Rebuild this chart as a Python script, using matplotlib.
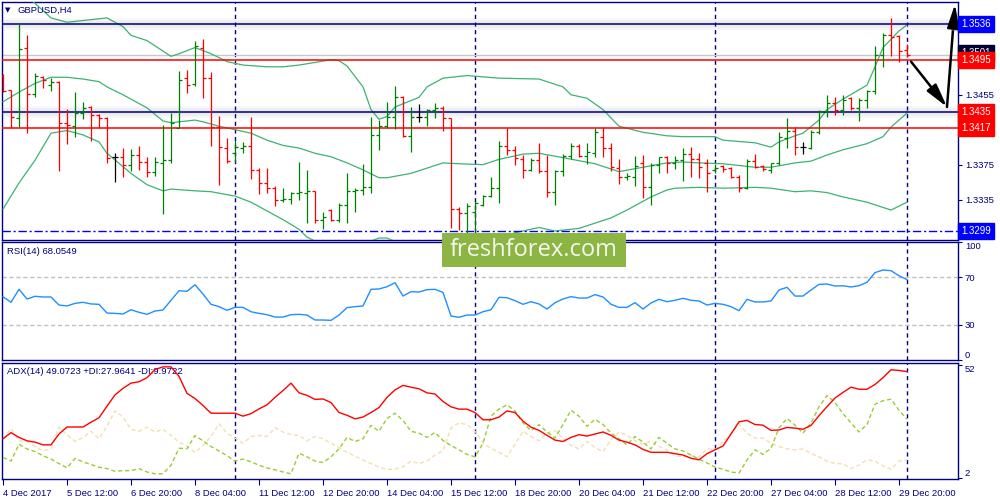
import matplotlib
matplotlib.use('Agg')
import matplotlib.pyplot as plt
import matplotlib.patheffects as pe
import numpy as np

symbol = 'GBPUSD,H4'
rsi_title = 'RSI(14) 68.0549'
adx_title = 'ADX(14) 49.0723 +DI:27.9641 -DI:9.9722'

# H4 bars, 4 Dec - 29 Dec 2017
opens = [1.3477, 1.3460, 1.3428, 1.3509, 1.3456, 1.3475, 1.3466, 1.3470, 1.3423, 1.3419,
         1.3434, 1.3441, 1.3432, 1.3428, 1.3384, 1.3384, 1.3375, 1.3386, 1.3378, 1.3367,
         1.3377, 1.3380, 1.3417, 1.3474, 1.3467, 1.3509, 1.3474, 1.3418, 1.3394, 1.3388,
         1.3394, 1.3396, 1.3369, 1.3354, 1.3348, 1.3335, 1.3336, 1.3343, 1.3343, 1.3345,
         1.3312, 1.3323, 1.3312, 1.3329, 1.3345, 1.3346, 1.3349, 1.3409, 1.3419, 1.3430,
         1.3452, 1.3408, 1.3430, 1.3430, 1.3438, 1.3440, 1.3428, 1.3324, 1.3320, 1.3321,
         1.3329, 1.3339, 1.3348, 1.3396, 1.3392, 1.3381, 1.3369, 1.3380, 1.3368, 1.3344,
         1.3368, 1.3385, 1.3396, 1.3385, 1.3388, 1.3407, 1.3394, 1.3371, 1.3361, 1.3361,
         1.3377, 1.3349, 1.3375, 1.3384, 1.3377, 1.3380, 1.3387, 1.3381, 1.3377, 1.3369,
         1.3373, 1.3371, 1.3361, 1.3348, 1.3379, 1.3373, 1.3369, 1.3377, 1.3406, 1.3414,
         1.3395, 1.3394, 1.3412, 1.3436, 1.3446, 1.3438, 1.3451, 1.3440, 1.3449, 1.3459,
         1.3501, 1.3523, 1.3522, 1.3506]
highs = [1.3479, 1.3461, 1.3536, 1.3523, 1.3480, 1.3477, 1.3474, 1.3471, 1.3439, 1.3458,
         1.3447, 1.3442, 1.3433, 1.3430, 1.3388, 1.3394, 1.3393, 1.3396, 1.3384, 1.3384,
         1.3420, 1.3434, 1.3482, 1.3483, 1.3517, 1.3519, 1.3481, 1.3431, 1.3406, 1.3403,
         1.3401, 1.3430, 1.3371, 1.3371, 1.3351, 1.3348, 1.3344, 1.3378, 1.3369, 1.3345,
         1.3321, 1.3324, 1.3331, 1.3365, 1.3348, 1.3376, 1.3430, 1.3426, 1.3447, 1.3465,
         1.3454, 1.3441, 1.3444, 1.3439, 1.3446, 1.3442, 1.3428, 1.3327, 1.3331, 1.3333,
         1.3340, 1.3361, 1.3402, 1.3417, 1.3396, 1.3386, 1.3383, 1.3400, 1.3386, 1.3369,
         1.3387, 1.3400, 1.3399, 1.3400, 1.3417, 1.3418, 1.3400, 1.3381, 1.3365, 1.3385,
         1.3386, 1.3377, 1.3384, 1.3385, 1.3385, 1.3394, 1.3395, 1.3388, 1.3381, 1.3376,
         1.3375, 1.3372, 1.3363, 1.3381, 1.3387, 1.3375, 1.3377, 1.3412, 1.3428, 1.3418,
         1.3401, 1.3415, 1.3438, 1.3455, 1.3452, 1.3455, 1.3452, 1.3451, 1.3460, 1.3511,
         1.3526, 1.3543, 1.3523, 1.3513]
lows = [1.3458, 1.3417, 1.3418, 1.3411, 1.3452, 1.3463, 1.3459, 1.3368, 1.3399, 1.3407,
        1.3427, 1.3402, 1.3417, 1.3377, 1.3355, 1.3361, 1.3368, 1.3369, 1.3361, 1.3362,
        1.3318, 1.3377, 1.3417, 1.3457, 1.3465, 1.3451, 1.3396, 1.3352, 1.3377, 1.3378,
        1.3388, 1.3359, 1.3341, 1.3343, 1.3328, 1.3332, 1.3330, 1.3335, 1.3308, 1.3308,
        1.3301, 1.3310, 1.3309, 1.3308, 1.3321, 1.3340, 1.3343, 1.3392, 1.3417, 1.3416,
        1.3407, 1.3389, 1.3424, 1.3419, 1.3428, 1.3414, 1.3302, 1.3300, 1.3297, 1.3299,
        1.3328, 1.3338, 1.3331, 1.3386, 1.3375, 1.3360, 1.3368, 1.3365, 1.3338, 1.3329,
        1.3362, 1.3381, 1.3384, 1.3376, 1.3384, 1.3384, 1.3368, 1.3353, 1.3357, 1.3351,
        1.3337, 1.3329, 1.3365, 1.3365, 1.3370, 1.3356, 1.3361, 1.3360, 1.3344, 1.3365,
        1.3367, 1.3360, 1.3344, 1.3347, 1.3371, 1.3368, 1.3365, 1.3375, 1.3394, 1.3386,
        1.3387, 1.3393, 1.3410, 1.3430, 1.3432, 1.3432, 1.3438, 1.3425, 1.3440, 1.3456,
        1.3487, 1.3499, 1.3493, 1.3498]
closes = [1.3459, 1.3430, 1.3507, 1.3456, 1.3477, 1.3472, 1.3470, 1.3423, 1.3420, 1.3434,
          1.3440, 1.3432, 1.3428, 1.3383, 1.3384, 1.3375, 1.3386, 1.3378, 1.3367, 1.3378,
          1.3380, 1.3423, 1.3472, 1.3466, 1.3511, 1.3474, 1.3418, 1.3395, 1.3379, 1.3395,
          1.3396, 1.3369, 1.3354, 1.3348, 1.3335, 1.3336, 1.3343, 1.3344, 1.3345, 1.3312,
          1.3315, 1.3312, 1.3329, 1.3345, 1.3346, 1.3349, 1.3409, 1.3419, 1.3430, 1.3452,
          1.3408, 1.3430, 1.3430, 1.3438, 1.3440, 1.3428, 1.3324, 1.3320, 1.3328, 1.3331,
          1.3339, 1.3348, 1.3396, 1.3392, 1.3383, 1.3369, 1.3380, 1.3368, 1.3344, 1.3368,
          1.3385, 1.3396, 1.3385, 1.3389, 1.3412, 1.3394, 1.3372, 1.3361, 1.3362, 1.3373,
          1.3349, 1.3375, 1.3384, 1.3377, 1.3380, 1.3387, 1.3381, 1.3372, 1.3365, 1.3371,
          1.3370, 1.3361, 1.3348, 1.3379, 1.3372, 1.3370, 1.3377, 1.3407, 1.3414, 1.3395,
          1.3395, 1.3412, 1.3435, 1.3446, 1.3438, 1.3449, 1.3440, 1.3449, 1.3459, 1.3501,
          1.3523, 1.3521, 1.3505, 1.3501]

# Bollinger bands read at some bars
bb_up_idx = [3, 6, 8, 12, 13, 15, 16, 18, 21, 22, 24, 26, 28, 30, 33, 35, 37, 41, 42, 43,
             45, 46, 47, 48, 49, 52, 53, 55, 58, 62, 67, 70, 71, 73, 75, 77, 80, 83, 85, 89,
             90, 94, 96, 97, 99, 100, 102, 103, 105, 108, 109, 110, 112, 113]
bb_up = [1.3568, 1.3543, 1.3538, 1.3542, 1.3543, 1.3533, 1.3523, 1.3517, 1.3499, 1.3502,
         1.3509, 1.3502, 1.3493, 1.3489, 1.3487, 1.3487, 1.3489, 1.3495, 1.3494, 1.3488,
         1.3464, 1.3438, 1.3427, 1.3430, 1.3441, 1.3452, 1.3464, 1.3474, 1.3477, 1.3474,
         1.3473, 1.3464, 1.3455, 1.3451, 1.3438, 1.3419, 1.3412, 1.3408, 1.3407, 1.3407,
         1.3403, 1.3400, 1.3395, 1.3401, 1.3408, 1.3411, 1.3426, 1.3438, 1.3450, 1.3466,
         1.3487, 1.3509, 1.3528, 1.3535]
bb_mid_idx = [0, 2, 4, 6, 8, 10, 12, 13, 15, 18, 20, 21, 22, 24, 25, 27, 29, 31, 33, 35,
              37, 39, 41, 43, 45, 47, 48, 51, 53, 55, 57, 60, 62, 65, 67, 70, 74, 77, 80, 83,
              85, 87, 90, 94, 96, 99, 101, 103, 105, 108, 110, 111, 113]
bb_mid = [1.3447, 1.3458, 1.3468, 1.3475, 1.3475, 1.3473, 1.3470, 1.3464, 1.3455, 1.3440,
          1.3425, 1.3423, 1.3424, 1.3426, 1.3424, 1.3419, 1.3415, 1.3411, 1.3403, 1.3397,
          1.3394, 1.3388, 1.3384, 1.3377, 1.3369, 1.3360, 1.3360, 1.3365, 1.3371, 1.3377,
          1.3376, 1.3375, 1.3381, 1.3387, 1.3388, 1.3383, 1.3376, 1.3367, 1.3372, 1.3377,
          1.3378, 1.3377, 1.3376, 1.3372, 1.3372, 1.3377, 1.3379, 1.3386, 1.3392, 1.3399,
          1.3407, 1.3418, 1.3434]
bb_low_idx = [0, 2, 4, 6, 8, 10, 12, 13, 16, 18, 20, 21, 24, 26, 29, 31, 33, 35, 37, 38,
              40, 43, 47, 48, 51, 55, 60, 64, 67, 69, 72, 76, 78, 81, 83, 84, 87, 90, 94, 96,
              99, 101, 103, 105, 108, 111, 113]
bb_low = [1.3324, 1.3354, 1.3380, 1.3411, 1.3414, 1.3409, 1.3401, 1.3388, 1.3365, 1.3352,
          1.3345, 1.3347, 1.3345, 1.3344, 1.3339, 1.3332, 1.3322, 1.3312, 1.3301, 1.3292,
          1.3283, 1.3277, 1.3291, 1.3291, 1.3279, 1.3271, 1.3283, 1.3297, 1.3303, 1.3299,
          1.3302, 1.3314, 1.3323, 1.3338, 1.3346, 1.3348, 1.3349, 1.3348, 1.3349, 1.3348,
          1.3344, 1.3345, 1.3343, 1.3338, 1.3332, 1.3323, 1.3332]

rsi = [53.6, 48.9, 59.9, 51.7, 54.0, 53.4, 53.4, 46.6, 45.8, 48.0,
       48.9, 47.5, 47.2, 39.8, 39.5, 39.0, 42.6, 40.4, 38.7, 41.5,
       42.4, 50.6, 58.7, 58.2, 63.8, 55.9, 47.2, 45.2, 42.1, 44.6,
       44.6, 40.9, 39.5, 38.4, 36.4, 36.4, 38.4, 38.7, 38.1, 33.9,
       33.9, 33.6, 38.1, 44.4, 45.2, 45.8, 59.9, 60.2, 62.1, 65.5,
       54.2, 57.9, 57.6, 59.6, 59.9, 57.3, 37.3, 36.2, 38.1, 38.1,
       40.9, 42.6, 53.1, 52.8, 50.3, 47.2, 49.4, 47.5, 43.2, 48.6,
       51.7, 53.7, 52.5, 52.5, 55.4, 53.4, 47.2, 44.6, 44.6, 48.6,
       43.2, 48.3, 51.4, 49.4, 50.6, 52.3, 50.6, 50.0, 46.6, 48.0,
       47.2, 45.2, 41.8, 51.4, 49.2, 49.2, 50.0, 59.3, 61.6, 54.2,
       54.2, 59.3, 64.1, 64.4, 62.7, 62.9, 61.9, 63.0, 65.8, 74.0,
       76.3, 75.7, 71.4, 68.1]

adx = [19.4, 22.1, 20.0, 18.5, 17.9, 16.7, 16.7, 21.5, 24.6, 24.6,
       24.6, 26.7, 28.7, 33.8, 38.8, 41.7, 44.0, 44.6, 46.4, 50.0,
       51.2, 51.2, 47.0, 39.5, 37.2, 34.1, 30.7, 30.7, 30.7, 30.7,
       29.4, 30.5, 32.6, 34.4, 37.7, 40.7, 44.0, 39.7, 38.6, 36.8,
       37.0, 35.4, 31.0, 29.8, 28.2, 29.0, 31.0, 33.2, 37.7, 41.0,
       43.0, 42.2, 41.5, 39.7, 39.2, 35.9, 33.5, 32.5, 32.5, 31.0,
       27.8, 27.8, 29.0, 31.7, 31.0, 27.2, 24.5, 23.1, 20.9, 18.8,
       18.2, 20.0, 21.2, 20.6, 21.5, 22.4, 20.9, 18.8, 17.9, 16.7,
       14.7, 13.4, 13.4, 13.4, 12.8, 12.2, 10.8, 10.1, 12.8, 14.5,
       16.2, 21.5, 26.9, 27.5, 25.7, 25.4, 23.1, 23.3, 24.4, 24.1,
       23.6, 25.3, 29.6, 33.6, 37.4, 39.9, 42.2, 41.3, 41.3, 43.4,
       46.4, 49.9, 49.6, 49.1]
plus_di = [11.1, 9.5, 17.0, 14.9, 13.7, 11.9, 10.4, 8.4, 6.5, 10.7,
           9.2, 8.0, 6.8, 6.2, 5.0, 5.3, 5.3, 6.2, 4.7, 3.9,
           3.9, 7.7, 15.2, 15.0, 20.8, 18.5, 16.0, 14.0, 11.9, 9.5,
           10.4, 9.2, 7.7, 6.5, 5.7, 4.7, 3.9, 13.0, 11.4, 9.5,
           8.9, 11.4, 14.9, 20.0, 18.2, 19.4, 25.3, 22.7, 28.4, 30.7,
           27.5, 22.7, 21.9, 20.0, 22.2, 18.6, 16.4, 14.5, 12.5, 11.4,
           17.4, 29.4, 32.5, 34.4, 31.7, 26.4, 23.0, 25.7, 22.4, 19.7,
           25.7, 32.0, 29.4, 24.9, 28.0, 25.7, 21.9, 19.4, 16.7, 20.4,
           17.9, 14.9, 20.0, 17.4, 14.9, 14.0, 12.2, 10.4, 8.7, 6.9,
           5.9, 4.7, 4.2, 10.0, 14.5, 12.5, 15.2, 24.2, 28.4, 25.4,
           21.9, 26.4, 33.5, 38.5, 35.4, 30.5, 26.4, 22.4, 25.7, 34.7,
           36.2, 36.9, 32.0, 28.0]
minus_di = [19.4, 23.9, 18.5, 18.2, 16.0, 14.0, 14.9, 24.5, 21.2, 18.2,
            20.0, 22.7, 19.4, 24.9, 31.7, 29.0, 23.5, 22.7, 24.5, 22.4,
            23.5, 20.9, 17.9, 16.0, 13.4, 16.4, 20.4, 26.0, 21.9, 19.7,
            17.4, 20.4, 20.9, 20.4, 24.2, 22.4, 21.2, 20.9, 18.5, 20.4,
            19.4, 17.4, 15.5, 13.4, 11.7, 9.9, 8.4, 6.9, 5.9, 5.9,
            6.9, 9.5, 8.4, 9.5, 12.2, 14.0, 24.2, 26.4, 25.7, 22.7,
            17.4, 15.2, 13.4, 11.4, 17.0, 22.7, 20.4, 18.5, 21.9, 23.0,
            19.4, 16.4, 14.9, 18.2, 15.5, 13.7, 18.9, 22.4, 20.9, 18.5,
            17.0, 18.2, 16.0, 14.5, 11.9, 11.4, 11.9, 11.4, 14.9, 14.5,
            18.2, 21.5, 26.0, 21.9, 19.7, 19.7, 17.4, 16.0, 14.9, 14.5,
            14.9, 12.9, 11.4, 9.5, 8.4, 8.4, 6.2, 7.7, 10.1, 9.5,
            7.4, 5.9, 9.5, 10.0]

time_labels = ['4 Dec 2017', '5 Dec 12:00', '6 Dec 20:00', '8 Dec 04:00', '11 Dec 12:00',
               '12 Dec 20:00', '14 Dec 04:00', '15 Dec 12:00', '18 Dec 20:00', '20 Dec 04:00',
               '21 Dec 12:00', '22 Dec 20:00', '27 Dec 04:00', '28 Dec 12:00', '29 Dec 20:00']
separators = [29, 59, 89, 113]

# price scale: ticks every 40 pips, only some labels are not covered by boxes
price_ticks = [1.3295, 1.3335, 1.3375, 1.3415, 1.3455, 1.3495, 1.3535]
price_tick_labels = ['', '1.3335', '1.3375', '', '1.3455', '', '']

# drawn levels: (price, line colour, label colour, shadowed)
levels = [(1.3536, '#000080', '#0000ff', True),
          (1.3495, '#ff0000', '#ff0000', False),
          (1.3435, '#000080', '#ff0000', True),
          (1.3417, '#ff0000', '#ff0000', False)]
support = 1.3299
bid = 1.3501
arrow_pts = [(113.5, 1.3493), (118.0, 1.3441), (119.0, 1.3559)]

NAVY = '#000080'
FONT = 'Liberation Sans'
FS = 6.8
plt.rcParams['font.family'] = FONT

bars = np.arange(len(closes))
W, H = 1000, 500


def rect(l, t, r, b):
    return [l / W, 1 - b / H, (r - l) / W, (b - t) / H]


fig = plt.figure(figsize=(10, 5), dpi=100)
ax = fig.add_axes(rect(2, 2, 958, 240))
ax_rsi = fig.add_axes(rect(2, 242, 958, 360))
ax_adx = fig.add_axes(rect(2, 363, 958, 479))

for a in (ax, ax_rsi, ax_adx):
    a.set_xlim(-0.125, 119.375)
    for s in a.spines.values():
        s.set_color(NAVY)
        s.set_linewidth(1.0)
    a.yaxis.tick_right()
    a.tick_params(axis='y', colors=NAVY, labelcolor=NAVY, labelsize=FS, length=3, width=0.8, pad=2)
    a.tick_params(axis='x', bottom=False, labelbottom=False)
    for sx in separators:
        a.axvline(sx, color=NAVY, lw=1.0, ls=(0, (3, 2.5)), zorder=1)

# ---- main price panel
ax.set_ylim(1.32887, 1.35612)
ax.set_yticks(price_ticks)
ax.set_yticklabels(price_tick_labels)

colors = ['#008000' if c > o else '#ff0000' if c < o else '#000000'
          for o, c in zip(opens, closes)]
ax.vlines(bars, lows, highs, colors=colors, lw=0.9, zorder=4)
ax.hlines(opens, bars - 0.4, bars, colors=colors, lw=0.9, zorder=4)
ax.hlines(closes, bars, bars + 0.4, colors=colors, lw=0.9, zorder=4)

for idx, vals in ((bb_up_idx, bb_up), (bb_mid_idx, bb_mid), (bb_low_idx, bb_low)):
    ax.plot(idx, vals, color='#3cb371', lw=0.9, zorder=3)

ax.axhline(bid, color='#c8c8c8', lw=1.0, zorder=2)
shadow = [pe.SimpleLineShadow(offset=(0, -k * 0.72), shadow_color='#808080',
                              alpha=0.13 * (1 - abs(k) / 6.5), linewidth=1.2)
          for k in range(-5, 7)] + [pe.Normal()]
for price, lc, bc, sh in levels:
    ax.axhline(price, color=lc, lw=1.1, zorder=3,
               path_effects=shadow if sh else None)
ax.axhline(support, color='#0000ff', lw=1.0, ls=(0, (6, 2, 1.5, 2)), zorder=3)

lab_tr = ax.get_yaxis_transform()
ax.text(1.0035, bid + 0.00018, '%.4f' % bid, transform=lab_tr, ha='left', va='center',
        color='white', fontsize=7, zorder=9, clip_on=False,
        bbox=dict(boxstyle='square,pad=0.3', fc='#000033', ec='#000033'))
for price, lc, bc, sh in levels + [(support, '#0000ff', '#0000ff', False)]:
    ax.text(1.0035, price, '%.4f' % price, transform=lab_tr, ha='left', va='center',
            color='white', fontsize=7, zorder=10, clip_on=False,
            bbox=dict(boxstyle='square,pad=0.3', fc=bc, ec=bc))

arrow_fx = [pe.withSimplePatchShadow(offset=(2, -2), shadow_rgbFace='#808080', alpha=0.5)]
for (x0, y0), (x1, y1) in zip(arrow_pts[:-1], arrow_pts[1:]):
    ax.annotate('', xy=(x1, y1), xytext=(x0, y0), annotation_clip=False,
                arrowprops=dict(arrowstyle='-|>,head_length=1.0,head_width=0.25',
                                color='black', lw=1.8, mutation_scale=14,
                                shrinkA=0, shrinkB=0, path_effects=arrow_fx),
                zorder=8)

ax.annotate('\u25bc', xy=(0, 1), xycoords='axes fraction', xytext=(5.5 * 0.72, -8 * 0.72),
            textcoords='offset points', ha='center', va='center', fontsize=5,
            color=NAVY, family='DejaVu Sans')
ax.annotate(symbol, xy=(0, 1), xycoords='axes fraction', xytext=(16 * 0.72, -8 * 0.72),
            textcoords='offset points', ha='left', va='center', fontsize=FS, color=NAVY)

# ---- RSI panel
ax_rsi.set_ylim(0, 100)
ax_rsi.plot(bars, rsi, color='#1e90ff', lw=1.0, zorder=3)
for lv in (30, 70):
    ax_rsi.axhline(lv, color='#c0c0c0', lw=1.0, ls=(0, (3, 2)), zorder=2)
ax_rsi.set_yticks([0, 30, 70, 100])
ax_rsi.set_yticklabels(['0', '30', '70', '100'])
tl = ax_rsi.get_yticklabels()
tl[0].set_va('bottom')
tl[-1].set_va('top')
ax_rsi.annotate(rsi_title, xy=(0, 1), xycoords='axes fraction', xytext=(5 * 0.72, -9 * 0.72),
                textcoords='offset points', ha='left', va='center', fontsize=FS, color=NAVY)

# ---- ADX panel
ax_adx.set_ylim(1.6, 52.9)
ax_adx.plot(bars, minus_di, color='#f5deb3', lw=1.0, ls=(0, (3, 2)), zorder=2)
ax_adx.plot(bars, plus_di, color='#9acd32', lw=1.0, ls=(0, (3, 2)), zorder=3)
ax_adx.plot(bars, adx, color='#ff0000', lw=1.0, zorder=4)
ax_adx.set_yticks([2, 52])
ax_adx.set_yticklabels(['2', '52'])
tl = ax_adx.get_yticklabels()
tl[0].set_va('bottom')
tl[1].set_va('top')
ax_adx.annotate(adx_title, xy=(0, 1), xycoords='axes fraction', xytext=(5 * 0.72, -8 * 0.72),
                textcoords='offset points', ha='left', va='center', fontsize=FS, color=NAVY)

ax_adx.set_xticks(bars[::8])
ax_adx.set_xticklabels(time_labels)
ax_adx.tick_params(axis='x', bottom=True, labelbottom=True, direction='out', length=4,
                   width=0.8, colors=NAVY, labelcolor=NAVY, labelsize=FS, pad=3)
for lbl in ax_adx.get_xticklabels():
    lbl.set_ha('left')

# watermark
fig.patches.append(plt.Rectangle((442 / W, 1 - 267 / H), 184 / W, 34 / H,
                                 transform=fig.transFigure, fc='#8db543', ec='none', zorder=20))
fig.text(534 / W, 1 - 250 / H, 'freshforex.com', ha='center', va='center', color='#f4f7ee',
         fontsize=17, family='Open Sans', zorder=21)

fig.savefig('out.png', dpi=100, facecolor='white')
